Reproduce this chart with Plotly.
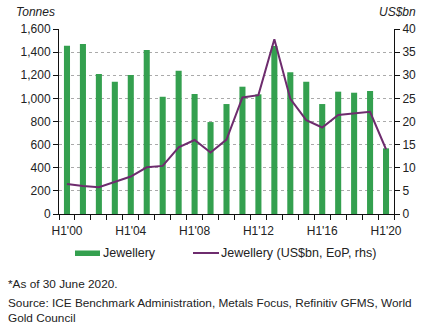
import plotly.graph_objects as go

categories = list(range(21))  # H1'00 ... H1'20, one bar per year
tonnes = [1456, 1470, 1211, 1144, 1202, 1418, 1014, 1239, 1038, 795,
          951, 1101, 1035, 1453, 1225, 1144, 951, 1058, 1049, 1064, 568]
usd_bn = [6.5, 6.05, 5.8, 7.0, 8.1, 10.1, 10.4, 14.4, 16.0, 13.3,
          16.1, 25.2, 25.7, 37.8, 24.9, 20.3, 18.7, 21.4, 21.8, 22.1, 14.0]
tick_positions = [0, 4, 8, 12, 16, 20]
tick_labels = ["H1'00", "H1'04", "H1'08", "H1'12", "H1'16", "H1'20"]
left_ticks = [0, 200, 400, 600, 800, 1000, 1200, 1400, 1600]
left_tick_text = ["0", "200", "400", "600", "800", "1,000", "1,200", "1,400", "1,600"]
right_ticks = [0, 5, 10, 15, 20, 25, 30, 35, 40]
bar_name = "Jewellery"
line_name = "Jewellery (US$bn, EoP, rhs)"

GREEN = "#34a04f"
PURPLE = "#6e2c6e"
FONT = "Liberation Sans, Arial, sans-serif"
TXT = "#222"

fig = go.Figure()
fig.add_trace(go.Bar(x=categories, y=tonnes, name=bar_name,
                     marker=dict(color=GREEN, line=dict(width=0)), width=0.38))
fig.add_trace(go.Scatter(x=categories, y=usd_bn, name=line_name,
                         mode="lines", line=dict(color=PURPLE, width=2), yaxis="y2"))

boundaries = [c - 0.5 for c in categories] + [categories[-1] + 0.5]

# plot area in pixels: x 59..394, y 29..214
PL, PR, PT, PB = 59, 394, 29, 214
def px(x):
    return (x - PL) / (PR - PL)
def py(y):
    return (PB - y) / (PB - PT)

fig.update_layout(
    width=436, height=330,
    margin=dict(l=PL, r=436 - PR, t=PT, b=330 - PB),
    paper_bgcolor="white", plot_bgcolor="white",
    font=dict(family=FONT, size=12, color=TXT),
    showlegend=False,
    xaxis=dict(range=[-0.5, 20.5], tickvals=tick_positions, ticktext=tick_labels,
               ticks="", showgrid=False, showline=True, linecolor="#111", linewidth=1,
               zeroline=False, tickfont=dict(size=12, color=TXT), ticklabelstandoff=6,
               minor=dict(tickvals=boundaries, ticks="outside", ticklen=5,
                          tickcolor="#111", showgrid=False)),
    yaxis=dict(range=[0, 1600], tickvals=left_ticks, ticktext=left_tick_text,
               ticks="outside", ticklen=5, tickcolor="#111",
               showline=True, linecolor="#111", linewidth=1,
               showgrid=True, gridcolor="#aaaaaa", griddash="dot", gridwidth=1,
               zeroline=False, tickfont=dict(size=12, color=TXT)),
    yaxis2=dict(range=[0, 40], tickvals=right_ticks, overlaying="y", side="right",
                ticks="outside", ticklen=5, tickcolor="#111",
                showline=True, linecolor="#111", linewidth=1,
                showgrid=False, zeroline=False, tickfont=dict(size=12, color=TXT)),
)

# axis unit labels
fig.add_annotation(text="<i>Tonnes</i>", xref="paper", yref="paper", x=px(14), y=py(12),
                   xanchor="left", yanchor="middle", showarrow=False,
                   font=dict(size=12, color=TXT))
fig.add_annotation(text="<i>US$bn</i>", xref="paper", yref="paper", x=px(418), y=py(12),
                   xanchor="right", yanchor="middle", showarrow=False,
                   font=dict(size=12, color=TXT))

# custom legend
fig.add_shape(type="rect", xref="paper", yref="paper",
              x0=px(75), x1=px(100), y0=py(256), y1=py(250.5),
              fillcolor=GREEN, line=dict(width=0))
fig.add_annotation(text=bar_name, xref="paper", yref="paper", x=px(101), y=py(253),
                   xanchor="left", yanchor="middle", showarrow=False,
                   font=dict(size=12.5, color=TXT))
fig.add_shape(type="line", xref="paper", yref="paper",
              x0=px(193), x1=px(219), y0=py(253), y1=py(253),
              line=dict(color=PURPLE, width=2))
fig.add_annotation(text=line_name, xref="paper", yref="paper", x=px(219), y=py(253),
                   xanchor="left", yanchor="middle", showarrow=False,
                   font=dict(size=12.5, color=TXT))

# footnotes
fig.add_annotation(text="*As of 30 June 2020.", xref="paper", yref="paper",
                   x=px(6), y=py(284), xanchor="left", yanchor="middle", showarrow=False,
                   font=dict(size=11.8, color=TXT), align="left")
fig.add_annotation(text="Source: ICE Benchmark Administration, Metals Focus, Refinitiv GFMS, World<br>Gold Council",
                   xref="paper", yref="paper", x=px(6), y=py(310), xanchor="left", yanchor="middle",
                   showarrow=False, font=dict(size=11.8, color=TXT), align="left")

fig.write_html("out.html")
